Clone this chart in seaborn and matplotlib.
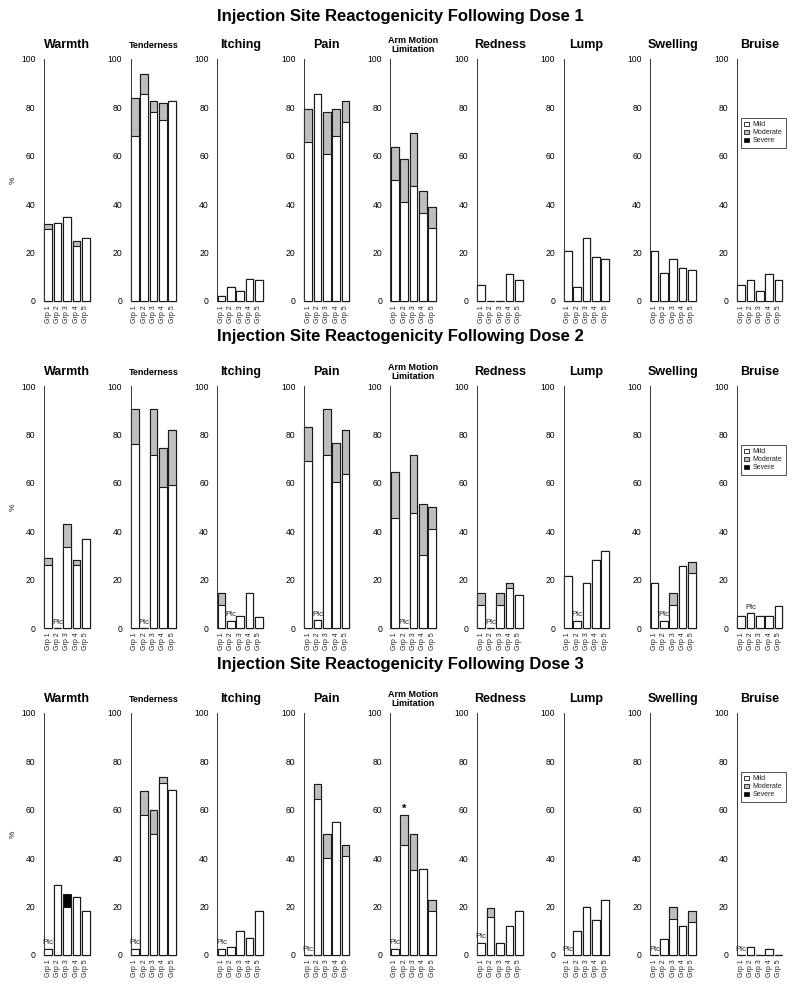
import matplotlib
matplotlib.use("Agg")
import matplotlib.pyplot as plt
from matplotlib.patches import Patch
import pandas as pd
import seaborn as sns

symptoms = ["Warmth", "Tenderness", "Itching", "Pain", "Arm Motion\nLimitation",
            "Redness", "Lump", "Swelling", "Bruise"]
groups = ["Grp 1", "Grp 2", "Grp 3", "Grp 4", "Grp 5"]
dose_titles = ["Injection Site Reactogenicity Following Dose 1",
               "Injection Site Reactogenicity Following Dose 2",
               "Injection Site Reactogenicity Following Dose 3"]
placebo_group = [None, "Grp 2", "Grp 1"]

# percent of subjects per grade, one row per symptom (same order as `symptoms`)
dose1_mild = [
    [29.6, 32.2, 34.7, 22.7, 26.2],
    [68.3, 85.4, 78.2, 74.9, 82.6],
    [2.2, 5.8, 4.3, 9.1, 8.8],
    [65.8, 85.4, 60.7, 68.2, 73.8],
    [49.9, 41.0, 47.7, 36.5, 30.3],
    [6.7, 0.0, 0.0, 11.3, 8.8],
    [20.5, 5.9, 26.2, 18.3, 17.5],
    [20.5, 11.7, 17.5, 13.5, 12.9],
    [6.7, 8.8, 4.3, 11.3, 8.8],
]
dose1_moderate = [
    [2.4, 0.0, 0.0, 2.2, 0.0],
    [15.7, 8.5, 4.4, 7.1, 0.0],
    [0.0, 0.0, 0.0, 0.0, 0.0],
    [13.5, 0.0, 17.5, 11.3, 8.8],
    [13.7, 17.7, 21.9, 9.0, 8.5],
    [0.0, 0.0, 0.0, 0.0, 0.0],
    [0.0, 0.0, 0.0, 0.0, 0.0],
    [0.0, 0.0, 0.0, 0.0, 0.0],
    [0.0, 0.0, 0.0, 0.0, 0.0],
]
dose1_severe = [
    [0.0, 0.0, 0.0, 0.0, 0.0],
    [0.0, 0.0, 0.0, 0.0, 0.0],
    [0.0, 0.0, 0.0, 0.0, 0.0],
    [0.0, 0.0, 0.0, 0.0, 0.0],
    [0.0, 0.0, 0.0, 0.0, 0.0],
    [0.0, 0.0, 0.0, 0.0, 0.0],
    [0.0, 0.0, 0.0, 0.0, 0.0],
    [0.0, 0.0, 0.0, 0.0, 0.0],
    [0.0, 0.0, 0.0, 0.0, 0.0],
]

dose2_mild = [
    [26.2, 0.0, 33.4, 26.1, 36.7],
    [76.1, 0.0, 71.4, 58.1, 59.2],
    [9.6, 3.0, 4.8, 14.3, 4.4],
    [69.0, 3.2, 71.3, 60.4, 63.7],
    [45.3, 0.0, 47.7, 30.2, 41.1],
    [9.6, 0.0, 9.6, 16.5, 13.5],
    [21.4, 3.0, 18.5, 27.9, 31.9],
    [18.8, 3.0, 9.6, 25.7, 22.7],
    [4.8, 6.0, 4.8, 4.8, 9.1],
]
dose2_moderate = [
    [2.6, 0.0, 9.5, 1.8, 0.0],
    [14.6, 0.0, 19.1, 16.1, 22.5],
    [4.7, 0.0, 0.0, 0.0, 0.0],
    [14.2, 0.0, 19.2, 16.2, 18.0],
    [19.0, 0.0, 23.7, 20.9, 8.8],
    [4.7, 0.0, 4.7, 2.0, 0.0],
    [0.0, 0.0, 0.0, 0.0, 0.0],
    [0.0, 0.0, 4.7, 0.0, 4.5],
    [0.0, 0.0, 0.0, 0.0, 0.0],
]
dose2_severe = [
    [0.0, 0.0, 0.0, 0.0, 0.0],
    [0.0, 0.0, 0.0, 0.0, 0.0],
    [0.0, 0.0, 0.0, 0.0, 0.0],
    [0.0, 0.0, 0.0, 0.0, 0.0],
    [0.0, 0.0, 0.0, 0.0, 0.0],
    [0.0, 0.0, 0.0, 0.0, 0.0],
    [0.0, 0.0, 0.0, 0.0, 0.0],
    [0.0, 0.0, 0.0, 0.0, 0.0],
    [0.0, 0.0, 0.0, 0.0, 0.0],
]

dose3_mild = [
    [2.6, 29.1, 20.0, 23.8, 18.2],
    [2.6, 58.0, 50.0, 71.2, 68.2],
    [2.6, 3.3, 10.1, 7.2, 18.2],
    [0.0, 64.6, 39.9, 54.8, 40.9],
    [2.6, 45.3, 35.0, 35.7, 18.2],
    [5.1, 15.7, 5.1, 11.8, 18.2],
    [0.0, 9.8, 20.0, 14.3, 22.6],
    [0.0, 6.5, 15.0, 11.8, 13.5],
    [0.0, 3.3, 0.0, 2.6, 0.0],
]
dose3_moderate = [
    [0.0, 0.0, 0.0, 0.0, 0.0],
    [0.0, 9.8, 9.9, 2.5, 0.0],
    [0.0, 0.0, 0.0, 0.0, 0.0],
    [0.0, 6.2, 10.0, 0.0, 4.4],
    [0.0, 12.7, 14.9, 0.0, 4.4],
    [0.0, 3.6, 0.0, 0.0, 0.0],
    [0.0, 0.0, 0.0, 0.0, 0.0],
    [0.0, 0.0, 5.0, 0.0, 4.5],
    [0.0, 0.0, 0.0, 0.0, 0.0],
]
dose3_severe = [
    [0.0, 0.0, 5.1, 0.0, 0.0],
    [0.0, 0.0, 0.0, 0.0, 0.0],
    [0.0, 0.0, 0.0, 0.0, 0.0],
    [0.0, 0.0, 0.0, 0.0, 0.0],
    [0.0, 0.0, 0.0, 0.0, 0.0],
    [0.0, 0.0, 0.0, 0.0, 0.0],
    [0.0, 0.0, 0.0, 0.0, 0.0],
    [0.0, 0.0, 0.0, 0.0, 0.0],
    [0.0, 0.0, 0.0, 0.0, 0.0],
]

# (dose index, symptom, group) marked with an asterisk
starred = [(2, "Arm Motion\nLimitation", "Grp 2")]

MILD = "#FFFFFF"
MODERATE = "#BEBEBE"
SEVERE = "#000000"
EDGE = "#1a1a1a"
AXIS = "#333333"

FIG_W, FIG_H = 800, 989


def draw_panel(ax, mild, moderate, severe, title, placebo, stars, show_legend):
    df = pd.DataFrame({"group": groups, "mild": mild, "moderate": moderate, "severe": severe})
    df["upto_moderate"] = df["mild"] + df["moderate"]
    df["total"] = df["upto_moderate"] + df["severe"]

    # stack by overdrawing: total (severe) -> mild+moderate -> mild
    for column, color in [("total", SEVERE), ("upto_moderate", MODERATE), ("mild", MILD)]:
        sns.barplot(data=df, x="group", y=column, color=color, saturation=1, width=0.82,
                    edgecolor=EDGE, linewidth=0.8, errorbar=None, ax=ax)
    for patch in ax.patches:
        patch.set_clip_on(False)

    ax.set_xlim(-0.46, 4.46)
    ax.set_ylim(0, 100)
    ax.set_xlabel("")
    ax.set_ylabel("")
    ax.set_yticks([0, 20, 40, 60, 80, 100])
    ax.tick_params(axis="y", direction="out", length=3.5, width=0.6, pad=2.5,
                   labelsize=6.2, color=AXIS, labelcolor="black")
    ax.tick_params(axis="x", length=0, pad=3, labelsize=5, rotation=90, labelcolor="#222222")
    for side in ["top", "right", "bottom"]:
        ax.spines[side].set_visible(False)
    ax.spines["left"].set_linewidth(0.7)
    ax.spines["left"].set_color(AXIS)

    small = "\n" in title or len(title) > 9
    ax.annotate(title, xy=(0.5, 1.0), xycoords="axes fraction", xytext=(0, 10),
                textcoords="offset points", ha="center", va="center", color="black",
                fontsize=6.5 if small else 9, fontweight="bold", linespacing=1.1)

    if placebo is not None:
        i = groups.index(placebo)
        ax.text(i, df["total"].iloc[i] + 1.0, "Plc", ha="center", va="bottom",
                fontsize=5.8, color="#222222")
    for g in stars:
        i = groups.index(g)
        ax.text(i, df["total"].iloc[i] + 0.5, "*", ha="center", va="bottom",
                fontsize=8, fontweight="bold", color="black")

    if show_legend:
        handles = [Patch(facecolor=MILD, edgecolor=EDGE, linewidth=0.6, label="Mild"),
                   Patch(facecolor=MODERATE, edgecolor=EDGE, linewidth=0.6, label="Moderate"),
                   Patch(facecolor=SEVERE, edgecolor=EDGE, linewidth=0.6, label="Severe")]
        leg = ax.legend(handles=handles, loc="upper left", bbox_to_anchor=(0.085, 0.755),
                        fontsize=5, frameon=True, fancybox=False, framealpha=1,
                        handlelength=0.7, handleheight=0.7, handletextpad=0.6,
                        labelspacing=0.15, borderpad=0.45, borderaxespad=0)
        leg.get_frame().set_edgecolor(AXIS)
        leg.get_frame().set_linewidth(0.6)
        for text in leg.get_texts():
            text.set_color("#222222")


sns.set_style("white")
plt.rcParams["font.family"] = ["Liberation Sans", "DejaVu Sans"]
plt.rcParams["text.color"] = "black"

fig = plt.figure(figsize=(FIG_W / 100, FIG_H / 100), dpi=100)

all_mild = [dose1_mild, dose2_mild, dose3_mild]
all_moderate = [dose1_moderate, dose2_moderate, dose3_moderate]
all_severe = [dose1_severe, dose2_severe, dose3_severe]

row_top = [59, 386, 713]
title_y = [17, 337, 664]
panel_h = 242
panel_w = 46

for d in range(3):
    fig.text(0.5, 1 - title_y[d] / FIG_H, dose_titles[d], ha="center", va="center",
             fontsize=12, fontweight="bold", color="black")
    fig.text(13 / FIG_W, 1 - (row_top[d] + panel_h / 2) / FIG_H, "%", rotation=90,
             ha="center", va="center", fontsize=6, color="#222222")
    for s, symptom in enumerate(symptoms):
        left = 44 + s * 86.6
        ax = fig.add_axes([left / FIG_W, 1 - (row_top[d] + panel_h) / FIG_H,
                           panel_w / FIG_W, panel_h / FIG_H])
        stars = [g for (dd, sym, g) in starred if dd == d and sym == symptom]
        draw_panel(ax, all_mild[d][s], all_moderate[d][s], all_severe[d][s], symptom,
                   placebo_group[d], stars, show_legend=(symptom == "Bruise"))

fig.savefig("out.png", dpi=100)
plt.close(fig)
